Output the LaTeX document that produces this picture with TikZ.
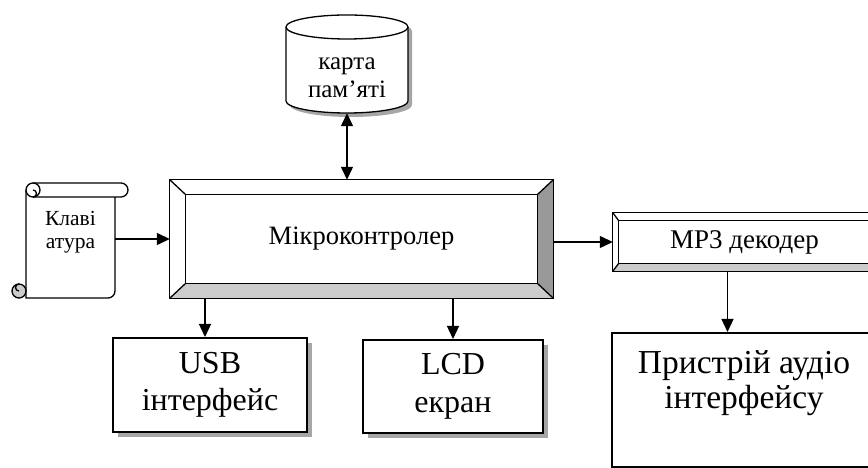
\documentclass[tikz,border=0pt]{standalone}
\usepackage{fontspec}
\setmainfont{Liberation Serif}
\usetikzlibrary{arrows.meta,shadows}

% bevelled frame round a node: #1 name, #2 side width, #3 top/bottom width
\newcommand{\drawbevel}[3]{%
  \fill[gray!40] (#1.south west) -- (#1.south east) -- ([xshift=-#2,yshift=#3]#1.south east) -- ([xshift=#2,yshift=#3]#1.south west) -- cycle;
  \fill[gray!80] (#1.north east) -- (#1.south east) -- ([xshift=-#2,yshift=#3]#1.south east) -- ([xshift=-#2,yshift=-#3]#1.north east) -- cycle;
  \draw[bevelline] (#1.north west) rectangle (#1.south east);
  \draw[bevelline] ([xshift=#2,yshift=-#3]#1.north west) rectangle ([xshift=-#2,yshift=#3]#1.south east);
  \foreach \c/\sx/\sy in {north west/1/-1, north east/-1/-1, south east/-1/1, south west/1/1}
    \draw[bevelline] (#1.\c) -- ([xshift=\sx*#2,yshift=\sy*#3]#1.\c);
}

\begin{document}
\begin{tikzpicture}[x=1pt, y=1pt,
                    >={Triangle[length=13pt,width=12pt]},
                    bevelbox/.style={rectangle, inner sep=0pt, align=center},
                    plainbox/.style={rectangle, draw, line width=2pt, fill=white, align=center, inner sep=0pt,
                                     drop shadow={shadow xshift=5pt, shadow yshift=-5pt, fill=gray!70, opacity=1}},
                    bevelline/.style={line width=1.3pt},
                    link/.style={line width=1.3pt},
                   ]
  \useasboundingbox (0,0) rectangle (868,468);
  \clip (0,0) rectangle (868,468);

  %Memory card
  \draw[fill=white, line width=1.3pt, drop shadow={shadow xshift=4pt, shadow yshift=-4pt, fill=gray!70, opacity=1}]
    (286,441) -- (286,367) arc[start angle=180, end angle=360, x radius=61pt, y radius=12pt]
    -- (408,441) arc[start angle=0, end angle=180, x radius=61pt, y radius=12pt] -- cycle;
  \draw[line width=1.3pt] (286,441) arc[start angle=180, end angle=360, x radius=61pt, y radius=12pt];

  %Keyboard scroll
  \draw[line width=1.3pt, fill=white] (26,278) -- (26,170) -- (108,170)
    arc[start angle=-90, end angle=0, radius=7pt] -- (115,271);
  \draw[line width=1.3pt, fill=white] (33,285) -- (121,285)
    arc[start angle=90, end angle=-90, radius=7pt] -- (33,271);
  \draw[line width=1.3pt, fill=white] (33,278) circle (7pt);
  \draw[line width=1.3pt] (33,271) arc[start angle=-90, end angle=90, radius=3.5pt];
  \draw[line width=1.3pt, fill=gray!40] (19,177) circle (7pt);
  \draw[line width=1.3pt] (19,184) arc[start angle=90, end angle=270, radius=3.5pt];

  %Nodes
  \node[bevelbox, minimum width=383pt, minimum height=118pt, font=\fontsize{26.5}{30}\selectfont] (mcu) at (361.5,229) {Мікроконтролер};
  \node[bevelbox, minimum width=263pt, minimum height=58pt, font=\fontsize{27}{30}\selectfont] (mp3) at (744.5,226) {MP3 декодер};
  \node[plainbox, minimum width=194pt, minimum height=94pt, font=\fontsize{32}{37}\selectfont] (usb) at (210,83) {USB\\інтерфейс};
  \node[plainbox, minimum width=180pt, minimum height=93pt, font=\fontsize{32}{38}\selectfont] (lcd) at (453,81.5) {LCD\\екран};
  \node[rectangle, draw, line width=2pt, minimum width=264pt, minimum height=134pt] (audio) at (744,68) {};
  \node[align=center, font=\fontsize{33.5}{35}\selectfont] (audiotxt) at ([yshift=17pt]audio.center) {Пристрій аудіо\\інтерфейсу};
  \node[align=center, inner sep=0pt, minimum height=70pt, font=\fontsize{25}{28}\selectfont] (card) at (347,390) {карта\\пам’яті};
  \node[align=center, inner sep=0pt, minimum width=89pt, minimum height=101pt, font=\fontsize{21.5}{23}\selectfont] (kbd) at (70.5,236) {Клаві\\атура};

  \drawbevel{mcu}{16pt}{15pt}
  \drawbevel{mp3}{6pt}{8pt}

  %Lines
  \draw[link, <->] (card.south) -- (card.south |- mcu.north);
  \draw[link, ->] (kbd.east |- mcu.west) -- (mcu.west);
  \draw[link, ->] (mcu.east |- mp3.west) -- (mp3.west);
  \draw[link, ->] ([xshift=-5pt]usb.north |- mcu.south) -- ([xshift=-5pt]usb.north);
  \draw[link, ->] (lcd.north |- mcu.south) -- (lcd.north);
  \draw[link, ->] ([xshift=-17pt]mp3.south) -- ([xshift=-17pt]mp3.south |- audio.north);
\end{tikzpicture}
\end{document}
